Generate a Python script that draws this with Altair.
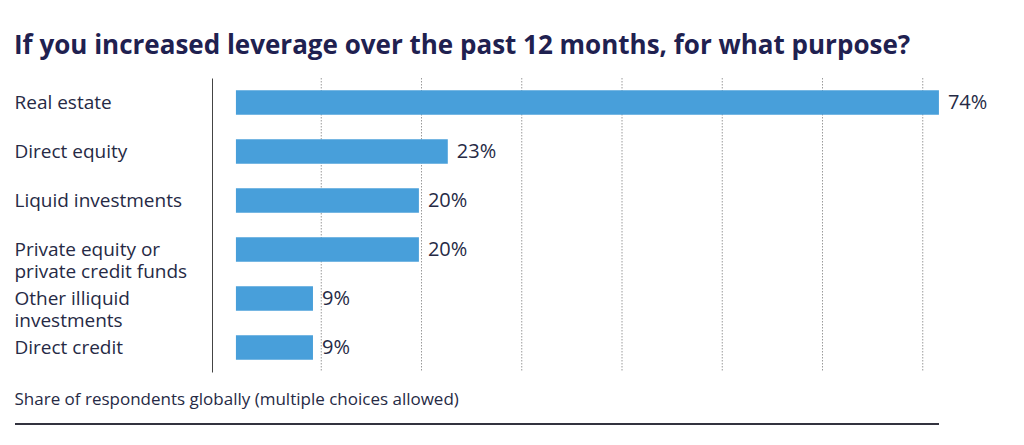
import altair as alt
import pandas as pd

categories = [
    "Real estate",
    "Direct equity",
    "Liquid investments",
    "Private equity or|private credit funds",
    "Other illiquid|investments",
    "Direct credit",
]
values = [74, 23, 20, 20, 9, 9]
value_labels = ["74%", "23%", "20%", "20%", "9%", "9%"]
grid_steps = [1, 2, 3, 4, 5, 6, 7]
bar_start = 1.0  # bars begin a short gap right of the value axis origin

TITLE = "If you increased leverage over the past 12 months, for what purpose?"
FOOTER = "Share of respondents globally (multiple choices allowed)"

NAVY = "#1f2150"
TEXT = "#262a45"
BAR = "#489fda"
FONT = "Open Sans"

df = pd.DataFrame({"cat": categories, "val": values, "lab": value_labels})
grid_df = pd.DataFrame({"g": grid_steps})

W, H = 800, 294

yenc = alt.Y(
    "cat:N",
    sort=categories,
    scale=alt.Scale(paddingInner=0.5, paddingOuter=0.25),
    axis=alt.Axis(
        title=None,
        ticks=False,
        grid=False,
        domain=True,
        domainColor="#444444",
        domainWidth=1,
        labelAlign="left",
        labelPadding=198,
        labelFont=FONT,
        labelFontSize=19,
        labelColor=TEXT,
        labelLineHeight=22.5,
        labelExpr="split(datum.label, '|')",
        labelLimit=0,
    ),
)

xscale = alt.Scale(domain=[0, 80], range=[14.3, 784.7])

grid = alt.Chart(grid_df).mark_rule(
    color="#9a9a9a", strokeDash=[1.5, 1.5], strokeWidth=1
).encode(
    x=alt.X("g:Q", scale=alt.Scale(domain=[0, 8], range=[9, 811]), axis=None),
)

bars = alt.Chart(df).mark_bar(color=BAR).encode(
    x=alt.X(
        "val:Q",
        scale=xscale,
        axis=alt.Axis(
            labels=False,
            ticks=False,
            domain=False,
            grid=False,
            title=FOOTER,
            titleFont=FONT,
            titleFontSize=17,
            titleFontWeight="normal",
            titleColor=TEXT,
            titleAnchor="start",
            titleAlign="left",
            titleBaseline="alphabetic",
            titleX=-198,
            titleY=32,
        ),
    ),
    x2=alt.X2(datum=bar_start),
    y=yenc,
)

labels = alt.Chart(df).mark_text(
    align="left", baseline="middle", dx=9, font=FONT, fontSize=20, color=TEXT
).encode(
    x=alt.X("val:Q", scale=xscale, axis=None),
    y=alt.Y("cat:N", sort=categories),
    text="lab:N",
)

rule = alt.Chart(pd.DataFrame({"d": [0]})).mark_rule(
    color="#33333f", strokeWidth=2
).encode(x=alt.value(-197), x2=alt.value(727), y=alt.value(H + 52))

chart = (
    alt.layer(grid, bars, labels, rule)
    .resolve_scale(x="independent")
    .properties(
        width=W,
        height=H,
        padding={"left": 6, "top": 24, "right": 4, "bottom": 4},
        title=alt.TitleParams(
            TITLE,
            anchor="start",
            frame="bounds",
            font=FONT,
            fontSize=26,
            fontWeight="bold",
            color=NAVY,
            offset=19,
        ),
    )
    .configure_view(stroke=None)
)

chart.save("out.html", embed_options={"renderer": "svg", "actions": False})
